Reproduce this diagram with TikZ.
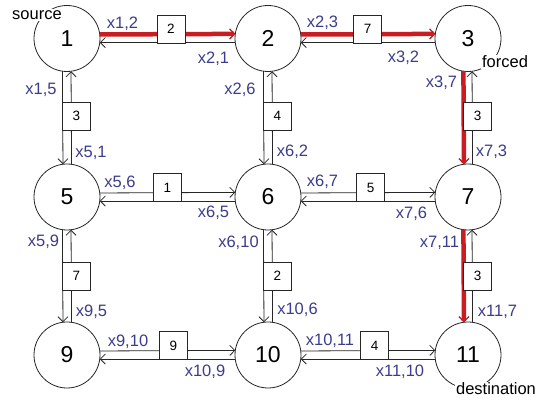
\documentclass[tikz,border=0pt]{standalone}
\usepackage{fontspec}
\setmainfont{Liberation Sans}
\usetikzlibrary{arrows.meta}
\definecolor{labelblue}{RGB}{60,60,140}
\definecolor{pathred}{RGB}{200,30,35}

\begin{document}
\begin{tikzpicture}[x=1pt,y=1pt,
  vertex/.style={circle,draw=black!85,fill=white,minimum size=66pt,inner sep=0pt,outer sep=0pt,
    line width=0.8pt,font=\fontsize{23}{23}\selectfont},
  link/.style={draw=black!85,line width=0.8pt,-{Straight Barb[length=5pt,width=10pt]}},
  chosen/.style={draw=pathred,line width=4.5pt,-{Straight Barb[length=5pt,width=10pt,line width=1pt]}},
  cost/.style={draw=black!85,fill=white,minimum width=28pt,minimum height=28pt,inner sep=0pt,
    line width=0.8pt,font=\fontsize{13.5}{13.5}\selectfont},
  flow/.style={text=labelblue,inner sep=0pt,font=\fontsize{16.5}{16.5}\selectfont},
  tag/.style={fill=white,inner sep=1pt,font=\fontsize{16.5}{16.5}\selectfont}]

\useasboundingbox (0,0) rectangle (541,401);

% network nodes
\node[vertex] (n1)  at (67,362.5) {1};
\node[vertex] (n2)  at (268,362.5) {2};
\node[vertex] (n3)  at (468,362.5) {3};
\node[vertex] (n5)  at (67,204) {5};
\node[vertex] (n6)  at (268,204) {6};
\node[vertex] (n7)  at (468,204) {7};
\node[vertex] (n9)  at (67,46) {9};
\node[vertex] (n10) at (268,46) {10};
\node[vertex] (n11) at (468,46) {11};

% horizontal arc pairs: upper i->j, lower j->i
\foreach \a/\b in {n1/n2,n2/n3,n5/n6,n6/n7,n9/n10,n10/n11}{
  \draw[link] (\a.7.8) -- (\b.172.2);
  \draw[link] (\b.187.8) -- (\a.-7.8);
}
% vertical arc pairs: left i->j, right j->i
\foreach \a/\b in {n1/n5,n2/n6,n3/n7,n5/n9,n6/n10,n7/n11}{
  \draw[link] (\a.262.2) -- (\b.97.8);
  \draw[link] (\b.82.2) -- (\a.277.8);
}

% selected path
\draw[chosen] (n1.7.8) -- (n2.172.2);
\draw[chosen] (n2.7.8) -- (n3.172.2);
\draw[chosen] (n3.262.2) -- (n7.97.8);
\draw[chosen] (n7.262.2) -- (n11.97.8);

% arc costs
\node[cost] (c12)   at (171,372) {2};
\node[cost] (c23)   at (367.5,372) {7};
\node[cost] (c56)   at (167.5,213.5) {1};
\node[cost] (c67)   at (370.5,213.5) {5};
\node[cost] (c910)  at (173.5,55.5) {9};
\node[cost] (c1011) at (374.5,55.5) {4};
\node[cost] (c15)   at (76.5,285) {3};
\node[cost] (c26)   at (277.5,285) {4};
\node[cost] (c37)   at (477.5,285) {3};
\node[cost] (c59)   at (76.5,125) {7};
\node[cost] (c610)  at (277.5,125) {2};
\node[cost] (c711)  at (477.5,125) {3};

% flow variables
\node[flow] (f12)   at (122.5,377) {x1,2};
\node[flow] (f21)   at (213.5,342) {x2,1};
\node[flow] (f23)   at (322.5,378) {x2,3};
\node[flow] (f32)   at (403.5,343) {x3,2};
\node[flow] (f15)   at (41,311) {x1,5};
\node[flow] (f26)   at (240,311) {x2,6};
\node[flow] (f37)   at (441.5,318) {x3,7};
\node[flow] (f51)   at (91,248) {x5,1};
\node[flow] (f62)   at (292.5,249) {x6,2};
\node[flow] (f73)   at (491.5,249) {x7,3};
\node[flow] (f56)   at (120,218) {x5,6};
\node[flow] (f65)   at (213.5,188) {x6,5};
\node[flow] (f67)   at (322.5,219) {x6,7};
\node[flow] (f76)   at (411.5,187) {x7,6};
\node[flow] (f59)   at (43.5,159) {x5,9};
\node[flow] (f610)  at (238.5,158) {x6,10};
\node[flow] (f711)  at (439.5,158) {x7,11};
\node[flow] (f95)   at (91.5,89) {x9,5};
\node[flow] (f106)  at (297.5,91) {x10,6};
\node[flow] (f117)  at (497.5,89) {x11,7};
\node[flow] (f910)  at (128,59) {x9,10};
\node[flow] (f109)  at (205,29) {x10,9};
\node[flow] (f1011) at (330,60) {x10,11};
\node[flow] (f1110) at (400,29) {x11,10};

% role tags
\node[tag] (src) at (37,386) {source};
\node[tag] (frc) at (505,339) {forced};
\node[tag] (dst) at (496,12) {destination};
\end{tikzpicture}
\end{document}
